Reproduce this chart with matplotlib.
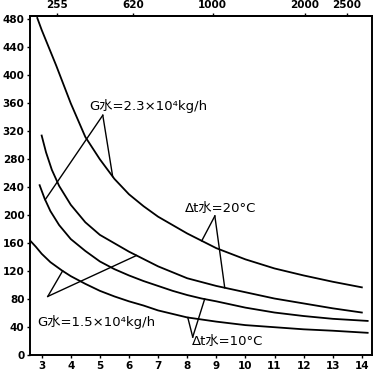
import numpy as np
import matplotlib.pyplot as plt

plt.rcParams['font.family'] = ['DejaVu Sans', 'Noto Sans CJK SC']

# curve A: G=2.3e4 kg/h, dt=20
a_x = [2.85, 3.0, 3.5, 4.0, 4.5, 5.0, 5.5, 6.0, 6.5, 7.0, 8.0, 9.0, 10.0, 11.0, 12.0, 13.0, 14.0]
a_y = [482, 465, 414, 360, 312, 280, 252, 230, 213, 198, 174, 153, 137, 124, 114, 105, 97]
# curve B: G=1.5e4 kg/h, dt=20
b_x = [3.0, 3.15, 3.35, 3.6, 4.0, 4.5, 5.0, 5.5, 6.0, 7.0, 8.0, 9.0, 10.0, 11.0, 12.0, 13.0, 14.0]
b_y = [314, 290, 265, 242, 215, 190, 172, 160, 148, 127, 110, 99, 90, 81, 74, 67, 61]
# curve C: G=2.3e4 kg/h, dt=10
c_x = [2.93, 3.1, 3.3, 3.6, 4.0, 4.5, 5.0, 5.5, 6.0, 6.5, 7.0, 7.5, 8.0, 8.5, 9.0, 10.0, 11.0, 12.0, 13.0, 14.2]
c_y = [243, 224, 206, 186, 166, 149, 134, 123, 114, 106, 99, 92, 86, 81, 77, 68, 61, 56, 52, 49]
# curve D: G=1.5e4 kg/h, dt=10
d_x = [2.6, 2.8, 3.0, 3.3, 3.7, 4.0, 4.5, 5.0, 5.5, 6.0, 6.5, 7.0, 8.0, 9.0, 10.0, 11.0, 12.0, 13.0, 14.2]
d_y = [164, 155, 145, 133, 121, 113, 102, 92, 84, 77, 71, 64, 54, 48, 43, 40, 37, 35, 32]

x_ticks = list(range(3, 15))
y_ticks = list(range(0, 481, 40))
top_labels = ['255', '620', '1000', '2000', '2500']
top_at = [3.52, 6.13, 8.88, 12.04, 13.48]

fig = plt.figure(figsize=(3.8, 3.7), dpi=100)
ax = fig.add_axes([0.079, 0.040, 0.900, 0.917])

for xs, ys in [(a_x, a_y), (b_x, b_y), (c_x, c_y), (d_x, d_y)]:
    ax.plot(xs, ys, color='black', lw=1.3)

ax.set_xlim(2.6, 14.35)
ax.set_ylim(0, 485)
ax.set_xticks(x_ticks)
ax.set_yticks(y_ticks)
ax.tick_params(labelsize=7.5, length=2.5, width=1, pad=1.5)
for lab in ax.get_xticklabels() + ax.get_yticklabels():
    lab.set_fontweight('bold')
for s in ax.spines.values():
    s.set_linewidth(1.4)

top = ax.secondary_xaxis('top')
top.set_xticks(top_at)
top.set_xticklabels(top_labels, fontsize=7.5, fontweight='bold')
top.tick_params(length=2.5, width=1, pad=1.5)
top.spines['top'].set_linewidth(1.4)


def on(xs, ys, x):
    return (x, float(np.interp(x, xs, ys)))


def leader(apex, targets):
    for t in targets:
        ax.plot([apex[0], t[0]], [apex[1], t[1]], color='black', lw=1.0)


leader((5.10, 343), [on(c_x, c_y, 3.12), on(a_x, a_y, 5.44)])
leader((8.95, 199), [on(a_x, a_y, 8.50), on(b_x, b_y, 9.29)])
leader((3.21, 84), [on(d_x, d_y, 3.72), on(b_x, b_y, 6.26)])
leader((8.19, 26), [on(d_x, d_y, 8.02), on(c_x, c_y, 8.60)])

ax.text(4.65, 356, 'G水=2.3×10⁴kg/h', fontsize=9.5, va='center')
ax.text(7.91, 210, 'Δt水=20°C', fontsize=9.5, va='center')
ax.text(2.86, 47, 'G水=1.5×10⁴kg/h', fontsize=9.5, va='center')
ax.text(8.15, 19, 'Δt水=10°C', fontsize=9.5, va='center')

fig.savefig('out.png', dpi=100)
